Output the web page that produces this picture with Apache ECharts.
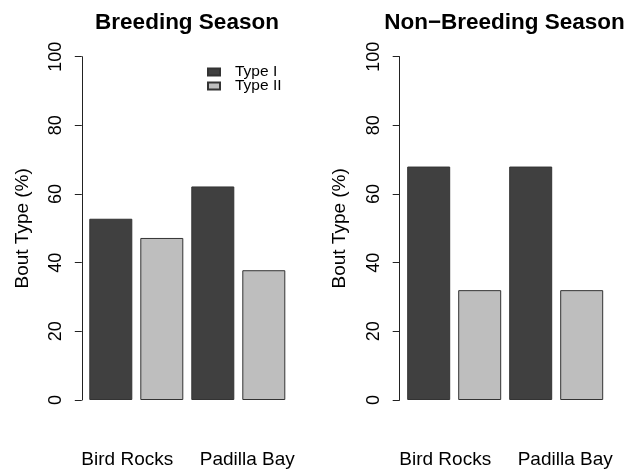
<!DOCTYPE html>
<html>
<head>
<meta charset="utf-8">
<script src="https://cdn.jsdelivr.net/npm/echarts@6/dist/echarts.min.js"></script>
<style>
html,body{margin:0;padding:0;background:#fff;}
#chart{width:627px;height:469px;}
</style>
</head>
<body>
<div id="chart"></div>
<script>
// ---- data ----
var categories = ['Bird Rocks', 'Padilla Bay'];
var seriesNames = ['Type I', 'Type II'];
var breedingTypeI = [52.8, 62.2];
var breedingTypeII = [47.2, 37.8];
var nonBreedingTypeI = [68, 68];
var nonBreedingTypeII = [32, 32];
var panelTitles = ['Breeding Season', 'Non\u2212Breeding Season'];
var yAxisName = 'Bout Type (%)';

var FONT = 'Liberation Sans, Arial, Helvetica, sans-serif';
var colors = ['#404040', '#bebebe'];

function xAxisFor(gi) {
  return {
    type: 'category', gridIndex: gi, data: categories,
    axisLine: {show: false}, axisTick: {show: false},
    axisLabel: {
      interval: 0, hideOverlap: false,
      margin: 50, fontFamily: FONT, fontSize: 19, color: '#000',
      formatter: function (v, i) { return i === 0 ? '{a|' + v + '}' : '{b|' + v + '}'; },
      rich: {
        a: {fontFamily: FONT, fontSize: 19, color: '#000', padding: [0, 18, 0, 0]},
        b: {fontFamily: FONT, fontSize: 19, color: '#000', padding: [0, 0, 0, 18]}
      }
    }
  };
}
function yAxisFor(gi) {
  return {
    type: 'value', gridIndex: gi, min: 0, max: 100, interval: 20, offset: 3.5,
    name: yAxisName, nameLocation: 'middle', nameRotate: 90, nameGap: 50,
    nameTextStyle: {fontFamily: FONT, fontSize: 19, color: '#000'},
    axisLine: {show: true, lineStyle: {color: '#222', width: 1}},
    axisTick: {show: true, length: 7, lineStyle: {color: '#222', width: 1}},
    splitLine: {show: false},
    axisLabel: {rotate: 90, margin: 17, fontFamily: FONT, fontSize: 18, color: '#000'}
  };
}
function barSeries(name, data, gi, ci) {
  return {
    type: 'bar', name: name, data: data, xAxisIndex: gi, yAxisIndex: gi,
    barWidth: 43, barGap: '18.6%',
    itemStyle: {color: colors[ci], borderColor: '#333', borderWidth: 1},
    emphasis: {disabled: true}
  };
}

var option = {
  animation: false,
  backgroundColor: '#fff',
  title: [
    {text: panelTitles[0], left: 187, top: 11, textAlign: 'center', padding: 0,
     textStyle: {fontFamily: FONT, fontSize: 22.5, fontWeight: 'bold', color: '#000'}},
    {text: panelTitles[1], left: 504.5, top: 11, textAlign: 'center', padding: 0,
     textStyle: {fontFamily: FONT, fontSize: 22.5, fontWeight: 'bold', color: '#000'}}
  ],
  legend: [
    {data: [seriesNames[0]], left: 207, top: 64, padding: 0, icon: 'rect', itemWidth: 12, itemHeight: 7,
     selectedMode: false, textStyle: {fontFamily: FONT, fontSize: 15.5, color: '#000', padding: [0, 0, 0, 10]}},
    {data: [seriesNames[1]], left: 207, top: 78, padding: 0, icon: 'rect', itemWidth: 12, itemHeight: 7,
     selectedMode: false, textStyle: {fontFamily: FONT, fontSize: 15.5, color: '#000', padding: [0, 0, 0, 10]}}
  ],
  grid: [
    {left: 85.3, width: 204, top: 56.7, height: 344.3},
    {left: 403.2, width: 204, top: 56.7, height: 344.3}
  ],
  xAxis: [xAxisFor(0), xAxisFor(1)],
  yAxis: [yAxisFor(0), yAxisFor(1)],
  series: [
    barSeries(seriesNames[0], breedingTypeI, 0, 0),
    barSeries(seriesNames[1], breedingTypeII, 0, 1),
    barSeries(seriesNames[0], nonBreedingTypeI, 1, 0),
    barSeries(seriesNames[1], nonBreedingTypeII, 1, 1)
  ]
};
var chart = echarts.init(document.getElementById('chart'), null, {renderer: 'canvas'});
chart.setOption(option);
</script>
</body>
</html>
